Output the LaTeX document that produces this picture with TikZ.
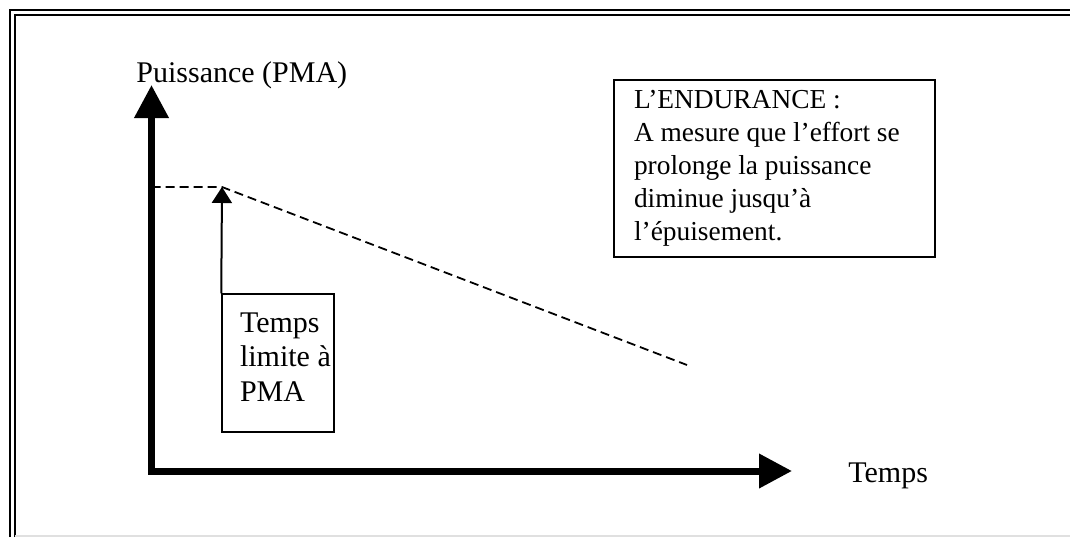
\documentclass[tikz,border=0pt]{standalone}
\usepackage{fontspec}
\setmainfont{Liberation Serif}
\usetikzlibrary{arrows.meta}
\tikzstyle{bx}=[shape=rectangle,
                draw=black,
                line width=0.75pt,
                align=left,
                inner xsep=10pt,
                execute at begin node={\spaceskip=0pt\xspaceskip=0pt}]
\tikzstyle{ax}=[line width=3.5pt,
                -{Triangle[length=16.5pt,width=16.5pt]}]
\tikzstyle{dl}=[line width=0.9pt,
                dash pattern=on 4.5pt off 2.5pt]

\begin{document}
\begin{tikzpicture}[x=0.5pt,y=-0.5pt,font=\fontsize{15}{17.25}\selectfont]
\useasboundingbox (0,0) rectangle (1070,537);

% double frame
\draw[line width=1pt] (9.5,537) -- (9.5,9.5) -- (1070,9.5);
\draw[line width=1pt] (14.5,537) -- (14.5,14.5) -- (1070,14.5);
\draw[black!12,line width=0.8pt] (15,536) -- (1070,536);

% axes
\coordinate (O) at (151.5,471);
\coordinate (ytip) at (151.5,85);
\coordinate (xtip) at (792,471);
\draw[ax] ([yshift=-1.75pt]O) -- (ytip);
\draw[ax] ([xshift=-1.75pt]O) -- (xtip);
\node[anchor=base west,inner sep=0] (ylab) at (136,82) {Puissance (PMA)};
\node[anchor=base west,inner sep=0] (xlab) at (848,482) {Temps};

% power level and decline
\coordinate (ylev) at (151.5,187);
\coordinate (pk) at (222,187);
\coordinate (tend) at (687,365);
\draw[dl] (ylev) -- (pk) -- (tend);

% text boxes
\node[bx,text width=38pt,inner xsep=9pt,minimum height=69pt] (tl) at (278,363)
  {Temps\\\mbox{limite à}\\PMA\rule[-6pt]{0pt}{6pt}};
\node[bx,text width=140.5pt,minimum height=88.5pt,
      font=\fontsize{13.7}{16.5}\selectfont] (endu) at (774.5,168.5)
  {L’ENDURANCE :\\A mesure que l’effort se\\prolonge la puissance\\diminue jusqu’à\\l’épuisement.\rule[-2pt]{0pt}{2pt}};

% time limit arrow
\draw[line width=1pt,-{Triangle[length=8pt,width=10pt]}] (tl.north west) -- (pk);

\end{tikzpicture}
\end{document}
